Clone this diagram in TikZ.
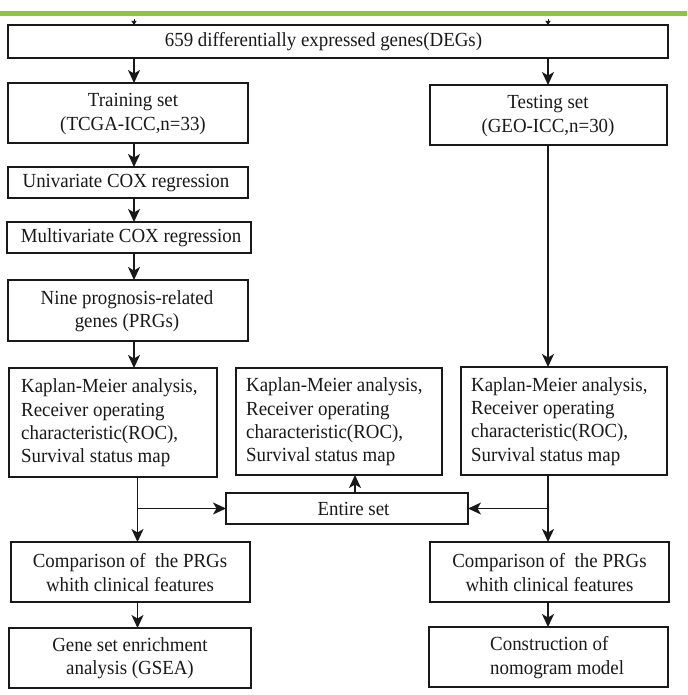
\documentclass[tikz,border=0pt]{standalone}
\usepackage{fontspec}
\setmainfont{Liberation Serif}[FakeStretch=0.945]
\usetikzlibrary{arrows.meta}
\definecolor{topgreen}{RGB}{140,198,63}
\definecolor{ink}{RGB}{25,25,25}
\begin{document}
\begin{tikzpicture}[x=1pt,y=-1pt,
  box/.style={draw=ink, line width=1.8pt, inner sep=0pt, outer sep=0pt, anchor=north west},
  txt/.style={font=\fontsize{20}{23.3}\selectfont, inner sep=0pt, align=center, text=ink},
  ltxt/.style={font=\fontsize{20}{23.3}\selectfont, inner sep=0pt, align=left, anchor=west, text=ink},
  arr/.style={draw=ink, line width=1.7pt, -{Stealth[length=13pt,width=12pt,inset=3.5pt]}},
  tiparr/.style={draw=ink, line width=0.8pt, -{Triangle[length=4pt,width=5pt]}}]
\useasboundingbox (0,0) rectangle (687,695);
\fill[white] (0,0) rectangle (687,695);

% boxes
\node[box, minimum width=660pt, minimum height=33pt] (degs) at (8,25) {};
\node[box, minimum width=240pt, minimum height=60pt] (train) at (8,83) {};
\node[box, minimum width=237pt, minimum height=60pt] (test) at (430,85) {};
\node[box, minimum width=240pt, minimum height=31pt] (uni) at (8,167) {};
\node[box, minimum width=244pt, minimum height=31pt] (multi) at (7,222) {};
\node[box, minimum width=240pt, minimum height=61pt] (nine) at (8,280) {};
\node[box, minimum width=208pt, minimum height=109pt] (kml) at (9,368) {};
\node[box, minimum width=206pt, minimum height=107pt] (kmm) at (236,368) {};
\node[box, minimum width=206pt, minimum height=108pt] (kmr) at (461,367) {};
\node[box, minimum width=242pt, minimum height=31pt] (entire) at (226,493) {};
\node[box, minimum width=239pt, minimum height=60pt] (cmpl) at (11,542) {};
\node[box, minimum width=242pt, minimum height=60pt] (gsea) at (9,628) {};
\node[box, minimum width=239pt, minimum height=60pt] (cmpr) at (430,542) {};
\node[box, minimum width=239pt, minimum height=60pt] (nomo) at (429,627) {};

% texts
\node[txt] (degs-t) at (323.5,42) {659 differentially expressed genes(DEGs)};
\node[txt] (train-t) at (133,114) {Training set\\(TCGA-ICC,n=33)};
\node[txt] (test-t) at (548,116) {Testing set\\(GEO-ICC,n=30)};
\node[txt] (uni-t) at (126,183) {Univariate COX regression};
\node[txt] (multi-t) at (131,238) {Multivariate COX regression};
\node[txt] (nine-t) at (127,311) {Nine prognosis-related\\genes (PRGs)};
\node[ltxt] (kml-t) at (21,423) {Kaplan-Meier analysis,\\Receiver operating\\characteristic(ROC),\\Survival status map};
\node[ltxt] (kmm-t) at (246,422) {Kaplan-Meier analysis,\\Receiver operating\\characteristic(ROC),\\Survival status map};
\node[ltxt] (kmr-t) at (471,421.5) {Kaplan-Meier analysis,\\Receiver operating\\characteristic(ROC),\\Survival status map};
\node[txt] (entire-t) at (353.5,509) {Entire set};
\node[txt] (cmpl-t) at (130,572.5) {Comparison of \ the PRGs\\whith clinical features};
\node[txt] (gsea-t) at (130,658.5) {Gene set enrichment\\analysis (GSEA)};
\node[txt] (cmpr-t) at (549.5,572.5) {Comparison of \ the PRGs\\whith clinical features};
\node[ltxt] (nomo-t) at (490,657.5) {Construction of\\nomogram model};

% connector columns
\coordinate (c1) at (134,0);
\coordinate (c2) at (137.5,0);
\coordinate (c3) at (548,0);
\coordinate (c4) at (355,0);
\coordinate (g1) at (134,19.5);
\coordinate (g2) at (548,19.5);

% cut-off tips at the top
\draw[tiparr] (g1) -- (degs.north -| g1);
\draw[tiparr] (g2) -- (degs.north -| g2);

% green rule
\fill[topgreen] (0,11.5) rectangle (687,16);

% arrows
\draw[arr] (degs.south -| c1) -- (train.north -| c1);
\draw[arr] (degs.south -| c3) -- (test.north -| c3);
\draw[arr] (train.south -| c1) -- (uni.north -| c1);
\draw[arr] (uni.south -| c1) -- (multi.north -| c1);
\draw[arr] (multi.south -| c1) -- (nine.north -| c1);
\draw[arr] (nine.south -| c1) -- (kml.north -| c1);
\draw[arr] (test.south -| c3) -- (kmr.north -| c3);
\draw[arr] (kml.south -| c2) -- (cmpl.north -| c2);
\draw[arr] (kmr.south -| c3) -- (cmpr.north -| c3);
\draw[arr] (entire.west -| c2) -- (entire.west);
\draw[arr] (entire.east -| c3) -- (entire.east);
\draw[arr] (entire.north -| c4) -- (kmm.south -| c4);
\draw[arr] (cmpl.south -| c2) -- (gsea.north -| c2);
\draw[arr] (cmpr.south -| c3) -- (nomo.north -| c3);
\end{tikzpicture}
\end{document}
